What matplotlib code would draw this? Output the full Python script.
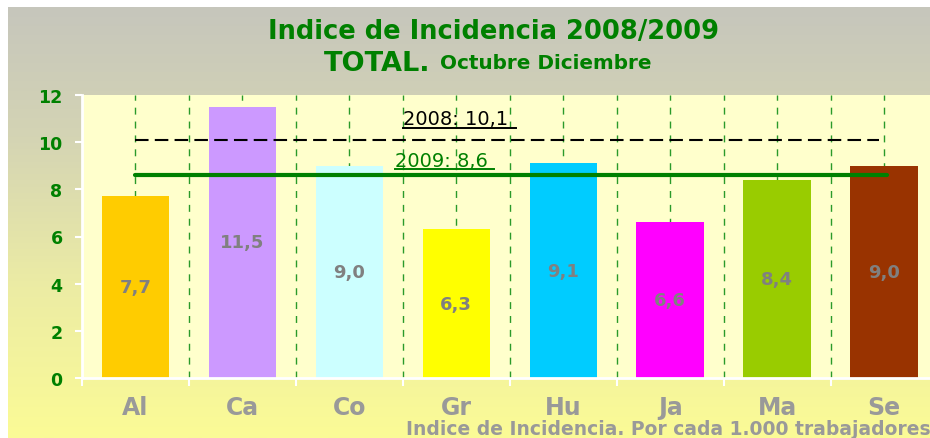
import numpy as np
import matplotlib.pyplot as plt
from matplotlib.colors import LinearSegmentedColormap

categorias = ['Al', 'Ca', 'Co', 'Gr', 'Hu', 'Ja', 'Ma', 'Se']
valores = [7.7, 11.5, 9.0, 6.3, 9.1, 6.6, 8.4, 9.0]
colores = ['#ffcc00', '#cc99ff', '#ccffff', '#ffff00', '#00ccff', '#ff00ff', '#99cc00', '#993300']
media_2008 = 10.1
media_2009 = 8.6

W, H = 930, 439
fig = plt.figure(figsize=(W / 100, H / 100), dpi=100)
fig.patch.set_facecolor('white')

# fondo degradado gris -> amarillo
bg = fig.add_axes([8 / W, 0, 1 - 8 / W, 1 - 8 / H], zorder=0)
grad = np.linspace(0, 1, 256).reshape(-1, 1)
cmap = LinearSegmentedColormap.from_list('bg', [(0, '#c6c6bc'), (0.3, '#d4d4b4'), (0.65, '#ececa4'), (1, '#fbfb96')])
bg.imshow(grad, aspect='auto', cmap=cmap, extent=[0, 1, 0, 1])
bg.axis('off')

# area de grafico
left, right, top, bottom = 82, 937.5, 96, 379
ax = fig.add_axes([left / W, 1 - bottom / H, (right - left) / W, (bottom - top) / H], zorder=1)
ax.set_facecolor('#ffffcc')
x = np.arange(len(categorias))
ax.bar(x, valores, width=0.63, color=colores, zorder=2)
for xi, v in zip(x, valores):
    ax.text(xi, v / 2, '{:.1f}'.format(v).replace('.', ','), ha='center', va='center',
            color='#808080', fontsize=13, fontweight='bold', zorder=3)

# lineas verticales discontinuas
for g in np.arange(0, 7.6, 0.5):
    ax.axvline(g, color='#2a9a2a', lw=1, ls=(0, (5, 5)), zorder=1)

ax.plot([x[0], x[-1] - 0.05], [media_2008, media_2008], color='black', lw=1.5, ls=(0, (6.5, 3)), zorder=4)
ax.plot([x[0], x[-1] + 0.03], [media_2009, media_2009], color='#008000', lw=3, zorder=4, solid_capstyle='round')
ax.text(2.5, 10.75, '2008: 10,1', color='black', fontsize=14, ha='left', va='baseline', zorder=5)
ax.plot([2.5, 3.56], [10.62, 10.62], color='black', lw=1.4, zorder=5)
ax.text(2.43, 9.0, '2009: 8,6', color='#008000', fontsize=14, ha='left', va='baseline', zorder=5)
ax.plot([2.43, 3.35], [8.86, 8.86], color='#008000', lw=1.4, zorder=5)

ax.set_xlim(-0.5, 7.5)
ax.set_ylim(0, 12)
ax.set_yticks(range(0, 13, 2))
ax.set_xticks(np.arange(-0.5, 7.6, 1))
ax.set_xticklabels([])
ax.tick_params(axis='y', colors='white', labelcolor='#008000', labelsize=12.5, length=5, width=1.5, pad=9)
ax.tick_params(axis='x', colors='white', length=6, width=1.5)
for lbl in ax.get_yticklabels():
    lbl.set_fontweight('bold')
for s in ['top', 'right']:
    ax.spines[s].set_visible(False)
for s in ['left', 'bottom']:
    ax.spines[s].set_color('white')
    ax.spines[s].set_linewidth(2)

for xi, c in zip(x, categorias):
    ax.text(xi, -0.7, c, ha='center', va='top', color='#999999', fontsize=17,
            fontweight='bold', clip_on=False)

fig.text(494 / W, 1 - 39 / H, 'Indice de Incidencia 2008/2009', ha='center', va='baseline',
         color='#008000', fontsize=18.5, fontweight='bold')
fig.text(430 / W, 1 - 71 / H, 'TOTAL.', ha='right', va='baseline',
         color='#008000', fontsize=19.5, fontweight='bold')
fig.text(440 / W, 1 - 69 / H, 'Octubre Diciembre', ha='left', va='baseline',
         color='#008000', fontsize=14.4, fontweight='bold')
fig.text(406 / W, 1 - 430 / H, 'Indice de Incidencia. Por cada 1.000 trabajadores', ha='left', va='center',
         color='#999999', fontsize=13.5, fontweight='bold')

fig.savefig('out.png', dpi=100)
